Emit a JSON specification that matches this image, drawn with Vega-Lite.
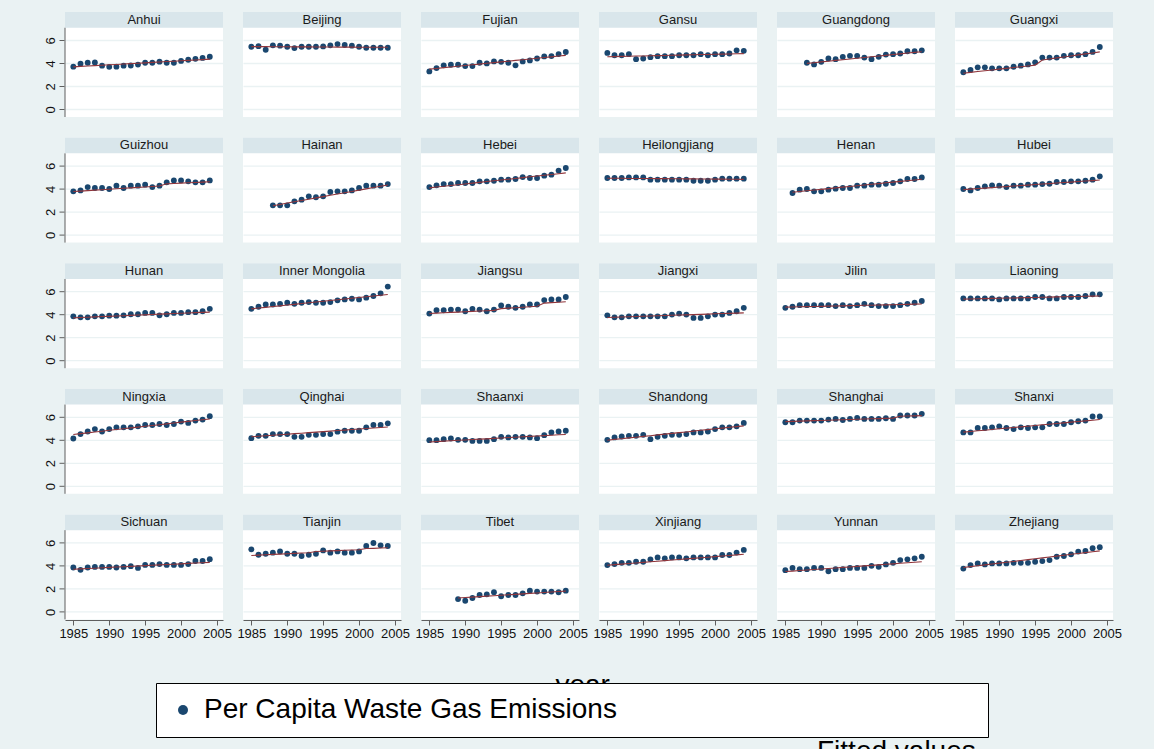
{
  "$schema": "https://vega.github.io/schema/vega-lite/v6.json",
  "background": "#EAF2F3",
  "padding": {"left": 43, "top": 12, "right": 38, "bottom": 10},
  "title": {"text": "year", "orient": "bottom", "anchor": "middle", "fontSize": 28, "fontWeight": "normal", "font": "Liberation Sans", "color": "#000000", "offset": -94},
  "data": {"values": [
    {"province":"Anhui","year":1985,"value":3.72,"fitted":3.70},{"province":"Anhui","year":1986,"value":3.97,"fitted":3.74},{"province":"Anhui","year":1987,"value":4.06,"fitted":3.77},{"province":"Anhui","year":1988,"value":4.08,"fitted":3.81},{"province":"Anhui","year":1989,"value":3.80,"fitted":3.84},{"province":"Anhui","year":1990,"value":3.70,"fitted":3.88},{"province":"Anhui","year":1991,"value":3.72,"fitted":3.91},{"province":"Anhui","year":1992,"value":3.80,"fitted":3.95},{"province":"Anhui","year":1993,"value":3.82,"fitted":3.98},{"province":"Anhui","year":1994,"value":3.90,"fitted":4.02},{"province":"Anhui","year":1995,"value":4.06,"fitted":4.05},{"province":"Anhui","year":1996,"value":4.06,"fitted":4.09},{"province":"Anhui","year":1997,"value":4.15,"fitted":4.12},{"province":"Anhui","year":1998,"value":4.06,"fitted":4.16},{"province":"Anhui","year":1999,"value":4.06,"fitted":4.19},{"province":"Anhui","year":2000,"value":4.22,"fitted":4.23},{"province":"Anhui","year":2001,"value":4.32,"fitted":4.26},{"province":"Anhui","year":2002,"value":4.40,"fitted":4.30},{"province":"Anhui","year":2003,"value":4.48,"fitted":4.33},{"province":"Anhui","year":2004,"value":4.58,"fitted":4.37},
    {"province":"Beijing","year":1985,"value":5.45,"fitted":5.46},{"province":"Beijing","year":1986,"value":5.50,"fitted":5.46},{"province":"Beijing","year":1987,"value":5.19,"fitted":5.46},{"province":"Beijing","year":1988,"value":5.57,"fitted":5.45},{"province":"Beijing","year":1989,"value":5.54,"fitted":5.45},{"province":"Beijing","year":1990,"value":5.45,"fitted":5.45},{"province":"Beijing","year":1991,"value":5.33,"fitted":5.44},{"province":"Beijing","year":1992,"value":5.45,"fitted":5.44},{"province":"Beijing","year":1993,"value":5.45,"fitted":5.44},{"province":"Beijing","year":1994,"value":5.45,"fitted":5.43},{"province":"Beijing","year":1995,"value":5.48,"fitted":5.43},{"province":"Beijing","year":1996,"value":5.57,"fitted":5.43},{"province":"Beijing","year":1997,"value":5.68,"fitted":5.42},{"province":"Beijing","year":1998,"value":5.60,"fitted":5.42},{"province":"Beijing","year":1999,"value":5.54,"fitted":5.42},{"province":"Beijing","year":2000,"value":5.45,"fitted":5.41},{"province":"Beijing","year":2001,"value":5.36,"fitted":5.41},{"province":"Beijing","year":2002,"value":5.36,"fitted":5.41},{"province":"Beijing","year":2003,"value":5.36,"fitted":5.40},{"province":"Beijing","year":2004,"value":5.36,"fitted":5.40},
    {"province":"Fujian","year":1985,"value":3.30,"fitted":3.50},{"province":"Fujian","year":1986,"value":3.59,"fitted":3.56},{"province":"Fujian","year":1987,"value":3.83,"fitted":3.63},{"province":"Fujian","year":1988,"value":3.88,"fitted":3.69},{"province":"Fujian","year":1989,"value":3.88,"fitted":3.75},{"province":"Fujian","year":1990,"value":3.77,"fitted":3.82},{"province":"Fujian","year":1991,"value":3.77,"fitted":3.88},{"province":"Fujian","year":1992,"value":4.06,"fitted":3.94},{"province":"Fujian","year":1993,"value":4.00,"fitted":4.01},{"province":"Fujian","year":1994,"value":4.17,"fitted":4.07},{"province":"Fujian","year":1995,"value":4.14,"fitted":4.13},{"province":"Fujian","year":1996,"value":4.06,"fitted":4.19},{"province":"Fujian","year":1997,"value":3.83,"fitted":4.26},{"province":"Fujian","year":1998,"value":4.17,"fitted":4.32},{"province":"Fujian","year":1999,"value":4.26,"fitted":4.38},{"province":"Fujian","year":2000,"value":4.43,"fitted":4.45},{"province":"Fujian","year":2001,"value":4.61,"fitted":4.51},{"province":"Fujian","year":2002,"value":4.64,"fitted":4.57},{"province":"Fujian","year":2003,"value":4.81,"fitted":4.64},{"province":"Fujian","year":2004,"value":4.99,"fitted":4.70},
    {"province":"Gansu","year":1985,"value":4.91,"fitted":4.58},{"province":"Gansu","year":1986,"value":4.71,"fitted":4.59},{"province":"Gansu","year":1987,"value":4.71,"fitted":4.61},{"province":"Gansu","year":1988,"value":4.80,"fitted":4.62},{"province":"Gansu","year":1989,"value":4.37,"fitted":4.64},{"province":"Gansu","year":1990,"value":4.43,"fitted":4.65},{"province":"Gansu","year":1991,"value":4.54,"fitted":4.67},{"province":"Gansu","year":1992,"value":4.63,"fitted":4.68},{"province":"Gansu","year":1993,"value":4.63,"fitted":4.69},{"province":"Gansu","year":1994,"value":4.63,"fitted":4.71},{"province":"Gansu","year":1995,"value":4.71,"fitted":4.72},{"province":"Gansu","year":1996,"value":4.71,"fitted":4.74},{"province":"Gansu","year":1997,"value":4.71,"fitted":4.75},{"province":"Gansu","year":1998,"value":4.80,"fitted":4.77},{"province":"Gansu","year":1999,"value":4.71,"fitted":4.78},{"province":"Gansu","year":2000,"value":4.80,"fitted":4.79},{"province":"Gansu","year":2001,"value":4.80,"fitted":4.81},{"province":"Gansu","year":2002,"value":4.86,"fitted":4.82},{"province":"Gansu","year":2003,"value":5.14,"fitted":4.84},{"province":"Gansu","year":2004,"value":5.09,"fitted":4.85},
    {"province":"Guangdong","year":1988,"value":4.06,"fitted":4.00},{"province":"Guangdong","year":1989,"value":3.91,"fitted":4.06},{"province":"Guangdong","year":1990,"value":4.14,"fitted":4.13},{"province":"Guangdong","year":1991,"value":4.43,"fitted":4.19},{"province":"Guangdong","year":1992,"value":4.37,"fitted":4.26},{"province":"Guangdong","year":1993,"value":4.57,"fitted":4.32},{"province":"Guangdong","year":1994,"value":4.66,"fitted":4.38},{"province":"Guangdong","year":1995,"value":4.66,"fitted":4.45},{"province":"Guangdong","year":1996,"value":4.51,"fitted":4.51},{"province":"Guangdong","year":1997,"value":4.37,"fitted":4.58},{"province":"Guangdong","year":1998,"value":4.57,"fitted":4.64},{"province":"Guangdong","year":1999,"value":4.77,"fitted":4.70},{"province":"Guangdong","year":2000,"value":4.80,"fitted":4.77},{"province":"Guangdong","year":2001,"value":4.86,"fitted":4.83},{"province":"Guangdong","year":2002,"value":5.06,"fitted":4.90},{"province":"Guangdong","year":2003,"value":5.06,"fitted":4.96},{"province":"Guangdong","year":2004,"value":5.14,"fitted":5.02},
    {"province":"Guangxi","year":1985,"value":3.23,"fitted":3.15},{"province":"Guangxi","year":1986,"value":3.43,"fitted":3.22},{"province":"Guangxi","year":1987,"value":3.66,"fitted":3.29},{"province":"Guangxi","year":1988,"value":3.66,"fitted":3.36},{"province":"Guangxi","year":1989,"value":3.57,"fitted":3.43},{"province":"Guangxi","year":1990,"value":3.57,"fitted":3.50},{"province":"Guangxi","year":1991,"value":3.57,"fitted":3.57},{"province":"Guangxi","year":1992,"value":3.71,"fitted":3.64},{"province":"Guangxi","year":1993,"value":3.80,"fitted":3.71},{"province":"Guangxi","year":1994,"value":3.91,"fitted":3.78},{"province":"Guangxi","year":1995,"value":4.09,"fitted":3.85},{"province":"Guangxi","year":1996,"value":4.51,"fitted":4.30},{"province":"Guangxi","year":1997,"value":4.51,"fitted":4.39},{"province":"Guangxi","year":1998,"value":4.51,"fitted":4.48},{"province":"Guangxi","year":1999,"value":4.66,"fitted":4.56},{"province":"Guangxi","year":2000,"value":4.71,"fitted":4.65},{"province":"Guangxi","year":2001,"value":4.71,"fitted":4.74},{"province":"Guangxi","year":2002,"value":4.80,"fitted":4.83},{"province":"Guangxi","year":2003,"value":5.00,"fitted":4.91},{"province":"Guangxi","year":2004,"value":5.43,"fitted":5.00},
    {"province":"Guizhou","year":1985,"value":3.80,"fitted":3.78},{"province":"Guizhou","year":1986,"value":3.88,"fitted":3.82},{"province":"Guizhou","year":1987,"value":4.17,"fitted":3.86},{"province":"Guizhou","year":1988,"value":4.09,"fitted":3.90},{"province":"Guizhou","year":1989,"value":4.09,"fitted":3.94},{"province":"Guizhou","year":1990,"value":4.00,"fitted":3.98},{"province":"Guizhou","year":1991,"value":4.29,"fitted":4.02},{"province":"Guizhou","year":1992,"value":4.09,"fitted":4.06},{"province":"Guizhou","year":1993,"value":4.29,"fitted":4.10},{"province":"Guizhou","year":1994,"value":4.29,"fitted":4.14},{"province":"Guizhou","year":1995,"value":4.38,"fitted":4.18},{"province":"Guizhou","year":1996,"value":4.17,"fitted":4.22},{"province":"Guizhou","year":1997,"value":4.29,"fitted":4.26},{"province":"Guizhou","year":1998,"value":4.58,"fitted":4.45},{"province":"Guizhou","year":1999,"value":4.75,"fitted":4.48},{"province":"Guizhou","year":2000,"value":4.75,"fitted":4.51},{"province":"Guizhou","year":2001,"value":4.67,"fitted":4.54},{"province":"Guizhou","year":2002,"value":4.58,"fitted":4.57},{"province":"Guizhou","year":2003,"value":4.58,"fitted":4.60},{"province":"Guizhou","year":2004,"value":4.75,"fitted":4.63},
    {"province":"Hainan","year":1988,"value":2.58,"fitted":2.55},{"province":"Hainan","year":1989,"value":2.58,"fitted":2.66},{"province":"Hainan","year":1990,"value":2.58,"fitted":2.78},{"province":"Hainan","year":1991,"value":2.93,"fitted":2.89},{"province":"Hainan","year":1992,"value":3.07,"fitted":3.00},{"province":"Hainan","year":1993,"value":3.36,"fitted":3.11},{"province":"Hainan","year":1994,"value":3.28,"fitted":3.23},{"province":"Hainan","year":1995,"value":3.36,"fitted":3.34},{"province":"Hainan","year":1996,"value":3.74,"fitted":3.45},{"province":"Hainan","year":1997,"value":3.80,"fitted":3.56},{"province":"Hainan","year":1998,"value":3.80,"fitted":3.68},{"province":"Hainan","year":1999,"value":3.88,"fitted":3.79},{"province":"Hainan","year":2000,"value":4.09,"fitted":3.90},{"province":"Hainan","year":2001,"value":4.29,"fitted":4.01},{"province":"Hainan","year":2002,"value":4.29,"fitted":4.13},{"province":"Hainan","year":2003,"value":4.29,"fitted":4.24},{"province":"Hainan","year":2004,"value":4.43,"fitted":4.35},
    {"province":"Hebei","year":1985,"value":4.17,"fitted":4.10},{"province":"Hebei","year":1986,"value":4.32,"fitted":4.17},{"province":"Hebei","year":1987,"value":4.43,"fitted":4.24},{"province":"Hebei","year":1988,"value":4.43,"fitted":4.31},{"province":"Hebei","year":1989,"value":4.52,"fitted":4.37},{"province":"Hebei","year":1990,"value":4.52,"fitted":4.44},{"province":"Hebei","year":1991,"value":4.52,"fitted":4.51},{"province":"Hebei","year":1992,"value":4.67,"fitted":4.58},{"province":"Hebei","year":1993,"value":4.67,"fitted":4.65},{"province":"Hebei","year":1994,"value":4.72,"fitted":4.72},{"province":"Hebei","year":1995,"value":4.81,"fitted":4.78},{"province":"Hebei","year":1996,"value":4.81,"fitted":4.85},{"province":"Hebei","year":1997,"value":4.87,"fitted":4.92},{"province":"Hebei","year":1998,"value":5.04,"fitted":4.99},{"province":"Hebei","year":1999,"value":4.96,"fitted":5.06},{"province":"Hebei","year":2000,"value":4.96,"fitted":5.13},{"province":"Hebei","year":2001,"value":5.16,"fitted":5.19},{"province":"Hebei","year":2002,"value":5.25,"fitted":5.26},{"province":"Hebei","year":2003,"value":5.60,"fitted":5.33},{"province":"Hebei","year":2004,"value":5.83,"fitted":5.40},
    {"province":"Heilongjiang","year":1985,"value":4.96,"fitted":4.94},{"province":"Heilongjiang","year":1986,"value":4.96,"fitted":4.93},{"province":"Heilongjiang","year":1987,"value":4.96,"fitted":4.93},{"province":"Heilongjiang","year":1988,"value":5.01,"fitted":4.92},{"province":"Heilongjiang","year":1989,"value":5.01,"fitted":4.92},{"province":"Heilongjiang","year":1990,"value":5.01,"fitted":4.91},{"province":"Heilongjiang","year":1991,"value":4.81,"fitted":4.91},{"province":"Heilongjiang","year":1992,"value":4.81,"fitted":4.90},{"province":"Heilongjiang","year":1993,"value":4.81,"fitted":4.90},{"province":"Heilongjiang","year":1994,"value":4.81,"fitted":4.89},{"province":"Heilongjiang","year":1995,"value":4.81,"fitted":4.89},{"province":"Heilongjiang","year":1996,"value":4.81,"fitted":4.88},{"province":"Heilongjiang","year":1997,"value":4.72,"fitted":4.88},{"province":"Heilongjiang","year":1998,"value":4.72,"fitted":4.87},{"province":"Heilongjiang","year":1999,"value":4.72,"fitted":4.87},{"province":"Heilongjiang","year":2000,"value":4.81,"fitted":4.86},{"province":"Heilongjiang","year":2001,"value":4.90,"fitted":4.86},{"province":"Heilongjiang","year":2002,"value":4.90,"fitted":4.85},{"province":"Heilongjiang","year":2003,"value":4.90,"fitted":4.85},{"province":"Heilongjiang","year":2004,"value":4.90,"fitted":4.84},
    {"province":"Henan","year":1986,"value":3.65,"fitted":3.72},{"province":"Henan","year":1987,"value":3.94,"fitted":3.78},{"province":"Henan","year":1988,"value":4.00,"fitted":3.85},{"province":"Henan","year":1989,"value":3.80,"fitted":3.91},{"province":"Henan","year":1990,"value":3.80,"fitted":3.97},{"province":"Henan","year":1991,"value":3.94,"fitted":4.03},{"province":"Henan","year":1992,"value":4.03,"fitted":4.10},{"province":"Henan","year":1993,"value":4.09,"fitted":4.16},{"province":"Henan","year":1994,"value":4.09,"fitted":4.22},{"province":"Henan","year":1995,"value":4.29,"fitted":4.29},{"province":"Henan","year":1996,"value":4.29,"fitted":4.35},{"province":"Henan","year":1997,"value":4.38,"fitted":4.41},{"province":"Henan","year":1998,"value":4.38,"fitted":4.47},{"province":"Henan","year":1999,"value":4.46,"fitted":4.54},{"province":"Henan","year":2000,"value":4.52,"fitted":4.60},{"province":"Henan","year":2001,"value":4.67,"fitted":4.66},{"province":"Henan","year":2002,"value":4.87,"fitted":4.72},{"province":"Henan","year":2003,"value":4.87,"fitted":4.79},{"province":"Henan","year":2004,"value":5.01,"fitted":4.85},
    {"province":"Hubei","year":1985,"value":4.00,"fitted":3.95},{"province":"Hubei","year":1986,"value":3.88,"fitted":3.99},{"province":"Hubei","year":1987,"value":4.09,"fitted":4.04},{"province":"Hubei","year":1988,"value":4.23,"fitted":4.08},{"province":"Hubei","year":1989,"value":4.32,"fitted":4.12},{"province":"Hubei","year":1990,"value":4.29,"fitted":4.17},{"province":"Hubei","year":1991,"value":4.17,"fitted":4.21},{"province":"Hubei","year":1992,"value":4.29,"fitted":4.26},{"province":"Hubei","year":1993,"value":4.29,"fitted":4.30},{"province":"Hubei","year":1994,"value":4.38,"fitted":4.34},{"province":"Hubei","year":1995,"value":4.38,"fitted":4.39},{"province":"Hubei","year":1996,"value":4.43,"fitted":4.43},{"province":"Hubei","year":1997,"value":4.46,"fitted":4.47},{"province":"Hubei","year":1998,"value":4.61,"fitted":4.52},{"province":"Hubei","year":1999,"value":4.61,"fitted":4.56},{"province":"Hubei","year":2000,"value":4.67,"fitted":4.60},{"province":"Hubei","year":2001,"value":4.67,"fitted":4.65},{"province":"Hubei","year":2002,"value":4.72,"fitted":4.69},{"province":"Hubei","year":2003,"value":4.81,"fitted":4.73},{"province":"Hubei","year":2004,"value":5.10,"fitted":4.78},
    {"province":"Hunan","year":1985,"value":3.85,"fitted":3.72},{"province":"Hunan","year":1986,"value":3.76,"fitted":3.75},{"province":"Hunan","year":1987,"value":3.76,"fitted":3.77},{"province":"Hunan","year":1988,"value":3.85,"fitted":3.80},{"province":"Hunan","year":1989,"value":3.85,"fitted":3.83},{"province":"Hunan","year":1990,"value":3.91,"fitted":3.85},{"province":"Hunan","year":1991,"value":3.91,"fitted":3.88},{"province":"Hunan","year":1992,"value":3.94,"fitted":3.90},{"province":"Hunan","year":1993,"value":4.03,"fitted":3.93},{"province":"Hunan","year":1994,"value":4.03,"fitted":3.96},{"province":"Hunan","year":1995,"value":4.15,"fitted":3.98},{"province":"Hunan","year":1996,"value":4.15,"fitted":4.01},{"province":"Hunan","year":1997,"value":3.94,"fitted":4.04},{"province":"Hunan","year":1998,"value":4.03,"fitted":4.06},{"province":"Hunan","year":1999,"value":4.15,"fitted":4.09},{"province":"Hunan","year":2000,"value":4.15,"fitted":4.12},{"province":"Hunan","year":2001,"value":4.21,"fitted":4.14},{"province":"Hunan","year":2002,"value":4.21,"fitted":4.17},{"province":"Hunan","year":2003,"value":4.29,"fitted":4.19},{"province":"Hunan","year":2004,"value":4.50,"fitted":4.22},
    {"province":"Inner Mongolia","year":1985,"value":4.50,"fitted":4.50},{"province":"Inner Mongolia","year":1986,"value":4.68,"fitted":4.57},{"province":"Inner Mongolia","year":1987,"value":4.88,"fitted":4.63},{"province":"Inner Mongolia","year":1988,"value":4.88,"fitted":4.70},{"province":"Inner Mongolia","year":1989,"value":4.94,"fitted":4.76},{"province":"Inner Mongolia","year":1990,"value":5.03,"fitted":4.83},{"province":"Inner Mongolia","year":1991,"value":4.94,"fitted":4.89},{"province":"Inner Mongolia","year":1992,"value":5.03,"fitted":4.96},{"province":"Inner Mongolia","year":1993,"value":5.09,"fitted":5.03},{"province":"Inner Mongolia","year":1994,"value":5.03,"fitted":5.09},{"province":"Inner Mongolia","year":1995,"value":5.03,"fitted":5.16},{"province":"Inner Mongolia","year":1996,"value":5.09,"fitted":5.22},{"province":"Inner Mongolia","year":1997,"value":5.24,"fitted":5.29},{"province":"Inner Mongolia","year":1998,"value":5.32,"fitted":5.36},{"province":"Inner Mongolia","year":1999,"value":5.38,"fitted":5.42},{"province":"Inner Mongolia","year":2000,"value":5.32,"fitted":5.49},{"province":"Inner Mongolia","year":2001,"value":5.47,"fitted":5.55},{"province":"Inner Mongolia","year":2002,"value":5.62,"fitted":5.62},{"province":"Inner Mongolia","year":2003,"value":5.85,"fitted":5.68},{"province":"Inner Mongolia","year":2004,"value":6.44,"fitted":5.75},
    {"province":"Jiangsu","year":1985,"value":4.09,"fitted":4.10},{"province":"Jiangsu","year":1986,"value":4.38,"fitted":4.13},{"province":"Jiangsu","year":1987,"value":4.38,"fitted":4.16},{"province":"Jiangsu","year":1988,"value":4.44,"fitted":4.19},{"province":"Jiangsu","year":1989,"value":4.44,"fitted":4.22},{"province":"Jiangsu","year":1990,"value":4.29,"fitted":4.25},{"province":"Jiangsu","year":1991,"value":4.50,"fitted":4.28},{"province":"Jiangsu","year":1992,"value":4.44,"fitted":4.31},{"province":"Jiangsu","year":1993,"value":4.29,"fitted":4.34},{"province":"Jiangsu","year":1994,"value":4.44,"fitted":4.37},{"province":"Jiangsu","year":1995,"value":4.79,"fitted":4.52},{"province":"Jiangsu","year":1996,"value":4.68,"fitted":4.56},{"province":"Jiangsu","year":1997,"value":4.59,"fitted":4.60},{"province":"Jiangsu","year":1998,"value":4.68,"fitted":4.64},{"province":"Jiangsu","year":1999,"value":4.88,"fitted":4.68},{"province":"Jiangsu","year":2000,"value":4.88,"fitted":4.72},{"province":"Jiangsu","year":2001,"value":5.26,"fitted":5.00},{"province":"Jiangsu","year":2002,"value":5.32,"fitted":5.04},{"province":"Jiangsu","year":2003,"value":5.32,"fitted":5.08},{"province":"Jiangsu","year":2004,"value":5.53,"fitted":5.12},
    {"province":"Jiangxi","year":1985,"value":3.94,"fitted":3.75},{"province":"Jiangxi","year":1986,"value":3.76,"fitted":3.77},{"province":"Jiangxi","year":1987,"value":3.76,"fitted":3.79},{"province":"Jiangxi","year":1988,"value":3.85,"fitted":3.81},{"province":"Jiangxi","year":1989,"value":3.85,"fitted":3.83},{"province":"Jiangxi","year":1990,"value":3.85,"fitted":3.86},{"province":"Jiangxi","year":1991,"value":3.85,"fitted":3.88},{"province":"Jiangxi","year":1992,"value":3.85,"fitted":3.90},{"province":"Jiangxi","year":1993,"value":3.85,"fitted":3.92},{"province":"Jiangxi","year":1994,"value":4.00,"fitted":3.94},{"province":"Jiangxi","year":1995,"value":4.09,"fitted":3.96},{"province":"Jiangxi","year":1996,"value":4.00,"fitted":3.98},{"province":"Jiangxi","year":1997,"value":3.71,"fitted":4.00},{"province":"Jiangxi","year":1998,"value":3.71,"fitted":4.02},{"province":"Jiangxi","year":1999,"value":3.85,"fitted":4.04},{"province":"Jiangxi","year":2000,"value":4.00,"fitted":4.07},{"province":"Jiangxi","year":2001,"value":4.00,"fitted":4.09},{"province":"Jiangxi","year":2002,"value":4.15,"fitted":4.11},{"province":"Jiangxi","year":2003,"value":4.29,"fitted":4.13},{"province":"Jiangxi","year":2004,"value":4.59,"fitted":4.15},
    {"province":"Jilin","year":1985,"value":4.59,"fitted":4.65},{"province":"Jilin","year":1986,"value":4.68,"fitted":4.66},{"province":"Jilin","year":1987,"value":4.82,"fitted":4.68},{"province":"Jilin","year":1988,"value":4.82,"fitted":4.69},{"province":"Jilin","year":1989,"value":4.82,"fitted":4.71},{"province":"Jilin","year":1990,"value":4.82,"fitted":4.72},{"province":"Jilin","year":1991,"value":4.82,"fitted":4.74},{"province":"Jilin","year":1992,"value":4.74,"fitted":4.75},{"province":"Jilin","year":1993,"value":4.82,"fitted":4.76},{"province":"Jilin","year":1994,"value":4.74,"fitted":4.78},{"province":"Jilin","year":1995,"value":4.82,"fitted":4.79},{"province":"Jilin","year":1996,"value":4.94,"fitted":4.81},{"province":"Jilin","year":1997,"value":4.82,"fitted":4.82},{"province":"Jilin","year":1998,"value":4.74,"fitted":4.84},{"province":"Jilin","year":1999,"value":4.74,"fitted":4.85},{"province":"Jilin","year":2000,"value":4.74,"fitted":4.86},{"province":"Jilin","year":2001,"value":4.82,"fitted":4.88},{"province":"Jilin","year":2002,"value":4.94,"fitted":4.89},{"province":"Jilin","year":2003,"value":5.03,"fitted":4.91},{"province":"Jilin","year":2004,"value":5.18,"fitted":4.92},
    {"province":"Liaoning","year":1985,"value":5.41,"fitted":5.35},{"province":"Liaoning","year":1986,"value":5.41,"fitted":5.36},{"province":"Liaoning","year":1987,"value":5.41,"fitted":5.38},{"province":"Liaoning","year":1988,"value":5.41,"fitted":5.39},{"province":"Liaoning","year":1989,"value":5.41,"fitted":5.41},{"province":"Liaoning","year":1990,"value":5.32,"fitted":5.42},{"province":"Liaoning","year":1991,"value":5.41,"fitted":5.44},{"province":"Liaoning","year":1992,"value":5.41,"fitted":5.45},{"province":"Liaoning","year":1993,"value":5.41,"fitted":5.46},{"province":"Liaoning","year":1994,"value":5.41,"fitted":5.48},{"province":"Liaoning","year":1995,"value":5.53,"fitted":5.49},{"province":"Liaoning","year":1996,"value":5.53,"fitted":5.51},{"province":"Liaoning","year":1997,"value":5.41,"fitted":5.52},{"province":"Liaoning","year":1998,"value":5.41,"fitted":5.54},{"province":"Liaoning","year":1999,"value":5.53,"fitted":5.55},{"province":"Liaoning","year":2000,"value":5.53,"fitted":5.56},{"province":"Liaoning","year":2001,"value":5.53,"fitted":5.58},{"province":"Liaoning","year":2002,"value":5.62,"fitted":5.59},{"province":"Liaoning","year":2003,"value":5.76,"fitted":5.61},{"province":"Liaoning","year":2004,"value":5.76,"fitted":5.62},
    {"province":"Ningxia","year":1985,"value":4.15,"fitted":4.50},{"province":"Ningxia","year":1986,"value":4.53,"fitted":4.57},{"province":"Ningxia","year":1987,"value":4.76,"fitted":4.64},{"province":"Ningxia","year":1988,"value":4.97,"fitted":4.71},{"province":"Ningxia","year":1989,"value":4.76,"fitted":4.78},{"province":"Ningxia","year":1990,"value":4.97,"fitted":4.86},{"province":"Ningxia","year":1991,"value":5.12,"fitted":4.93},{"province":"Ningxia","year":1992,"value":5.12,"fitted":5.00},{"province":"Ningxia","year":1993,"value":5.12,"fitted":5.07},{"province":"Ningxia","year":1994,"value":5.21,"fitted":5.14},{"province":"Ningxia","year":1995,"value":5.32,"fitted":5.21},{"province":"Ningxia","year":1996,"value":5.32,"fitted":5.28},{"province":"Ningxia","year":1997,"value":5.41,"fitted":5.35},{"province":"Ningxia","year":1998,"value":5.32,"fitted":5.42},{"province":"Ningxia","year":1999,"value":5.41,"fitted":5.49},{"province":"Ningxia","year":2000,"value":5.62,"fitted":5.57},{"province":"Ningxia","year":2001,"value":5.50,"fitted":5.64},{"province":"Ningxia","year":2002,"value":5.71,"fitted":5.71},{"province":"Ningxia","year":2003,"value":5.79,"fitted":5.78},{"province":"Ningxia","year":2004,"value":6.09,"fitted":5.85},
    {"province":"Qinghai","year":1985,"value":4.18,"fitted":4.30},{"province":"Qinghai","year":1986,"value":4.38,"fitted":4.34},{"province":"Qinghai","year":1987,"value":4.38,"fitted":4.39},{"province":"Qinghai","year":1988,"value":4.53,"fitted":4.43},{"province":"Qinghai","year":1989,"value":4.53,"fitted":4.48},{"province":"Qinghai","year":1990,"value":4.53,"fitted":4.52},{"province":"Qinghai","year":1991,"value":4.29,"fitted":4.57},{"province":"Qinghai","year":1992,"value":4.29,"fitted":4.61},{"province":"Qinghai","year":1993,"value":4.47,"fitted":4.66},{"province":"Qinghai","year":1994,"value":4.47,"fitted":4.70},{"province":"Qinghai","year":1995,"value":4.53,"fitted":4.75},{"province":"Qinghai","year":1996,"value":4.53,"fitted":4.79},{"province":"Qinghai","year":1997,"value":4.74,"fitted":4.84},{"province":"Qinghai","year":1998,"value":4.82,"fitted":4.88},{"province":"Qinghai","year":1999,"value":4.82,"fitted":4.93},{"province":"Qinghai","year":2000,"value":4.82,"fitted":4.97},{"province":"Qinghai","year":2001,"value":5.12,"fitted":5.02},{"province":"Qinghai","year":2002,"value":5.32,"fitted":5.06},{"province":"Qinghai","year":2003,"value":5.32,"fitted":5.11},{"province":"Qinghai","year":2004,"value":5.47,"fitted":5.15},
    {"province":"Shaanxi","year":1985,"value":4.00,"fitted":3.85},{"province":"Shaanxi","year":1986,"value":4.00,"fitted":3.88},{"province":"Shaanxi","year":1987,"value":4.09,"fitted":3.92},{"province":"Shaanxi","year":1988,"value":4.15,"fitted":3.95},{"province":"Shaanxi","year":1989,"value":4.03,"fitted":3.99},{"province":"Shaanxi","year":1990,"value":4.03,"fitted":4.02},{"province":"Shaanxi","year":1991,"value":3.94,"fitted":4.06},{"province":"Shaanxi","year":1992,"value":3.94,"fitted":4.09},{"province":"Shaanxi","year":1993,"value":3.94,"fitted":4.12},{"province":"Shaanxi","year":1994,"value":4.09,"fitted":4.16},{"province":"Shaanxi","year":1995,"value":4.29,"fitted":4.19},{"province":"Shaanxi","year":1996,"value":4.24,"fitted":4.23},{"province":"Shaanxi","year":1997,"value":4.29,"fitted":4.26},{"province":"Shaanxi","year":1998,"value":4.29,"fitted":4.30},{"province":"Shaanxi","year":1999,"value":4.24,"fitted":4.33},{"province":"Shaanxi","year":2000,"value":4.18,"fitted":4.36},{"province":"Shaanxi","year":2001,"value":4.44,"fitted":4.40},{"province":"Shaanxi","year":2002,"value":4.68,"fitted":4.43},{"province":"Shaanxi","year":2003,"value":4.76,"fitted":4.47},{"province":"Shaanxi","year":2004,"value":4.82,"fitted":4.50},
    {"province":"Shandong","year":1985,"value":4.03,"fitted":4.00},{"province":"Shandong","year":1986,"value":4.24,"fitted":4.07},{"province":"Shandong","year":1987,"value":4.32,"fitted":4.13},{"province":"Shandong","year":1988,"value":4.38,"fitted":4.20},{"province":"Shandong","year":1989,"value":4.38,"fitted":4.26},{"province":"Shandong","year":1990,"value":4.47,"fitted":4.33},{"province":"Shandong","year":1991,"value":4.09,"fitted":4.39},{"province":"Shandong","year":1992,"value":4.29,"fitted":4.46},{"province":"Shandong","year":1993,"value":4.38,"fitted":4.53},{"province":"Shandong","year":1994,"value":4.47,"fitted":4.59},{"province":"Shandong","year":1995,"value":4.47,"fitted":4.66},{"province":"Shandong","year":1996,"value":4.53,"fitted":4.72},{"province":"Shandong","year":1997,"value":4.68,"fitted":4.79},{"province":"Shandong","year":1998,"value":4.68,"fitted":4.86},{"province":"Shandong","year":1999,"value":4.76,"fitted":4.92},{"province":"Shandong","year":2000,"value":4.97,"fitted":4.99},{"province":"Shandong","year":2001,"value":5.12,"fitted":5.05},{"province":"Shandong","year":2002,"value":5.12,"fitted":5.12},{"province":"Shandong","year":2003,"value":5.21,"fitted":5.18},{"province":"Shandong","year":2004,"value":5.50,"fitted":5.25},
    {"province":"Shanghai","year":1985,"value":5.56,"fitted":5.62},{"province":"Shanghai","year":1986,"value":5.56,"fitted":5.64},{"province":"Shanghai","year":1987,"value":5.71,"fitted":5.66},{"province":"Shanghai","year":1988,"value":5.71,"fitted":5.68},{"province":"Shanghai","year":1989,"value":5.71,"fitted":5.70},{"province":"Shanghai","year":1990,"value":5.71,"fitted":5.72},{"province":"Shanghai","year":1991,"value":5.79,"fitted":5.74},{"province":"Shanghai","year":1992,"value":5.85,"fitted":5.76},{"province":"Shanghai","year":1993,"value":5.76,"fitted":5.78},{"province":"Shanghai","year":1994,"value":5.85,"fitted":5.80},{"province":"Shanghai","year":1995,"value":5.94,"fitted":5.82},{"province":"Shanghai","year":1996,"value":5.85,"fitted":5.84},{"province":"Shanghai","year":1997,"value":5.85,"fitted":5.86},{"province":"Shanghai","year":1998,"value":5.85,"fitted":5.88},{"province":"Shanghai","year":1999,"value":5.91,"fitted":5.90},{"province":"Shanghai","year":2000,"value":5.85,"fitted":5.92},{"province":"Shanghai","year":2001,"value":6.15,"fitted":6.08},{"province":"Shanghai","year":2002,"value":6.15,"fitted":6.10},{"province":"Shanghai","year":2003,"value":6.15,"fitted":6.12},{"province":"Shanghai","year":2004,"value":6.29,"fitted":6.14},
    {"province":"Shanxi","year":1985,"value":4.68,"fitted":4.70},{"province":"Shanxi","year":1986,"value":4.68,"fitted":4.76},{"province":"Shanxi","year":1987,"value":5.06,"fitted":4.82},{"province":"Shanxi","year":1988,"value":5.06,"fitted":4.87},{"province":"Shanxi","year":1989,"value":5.12,"fitted":4.93},{"province":"Shanxi","year":1990,"value":5.21,"fitted":4.99},{"province":"Shanxi","year":1991,"value":5.06,"fitted":5.05},{"province":"Shanxi","year":1992,"value":4.97,"fitted":5.11},{"province":"Shanxi","year":1993,"value":5.12,"fitted":5.16},{"province":"Shanxi","year":1994,"value":5.06,"fitted":5.22},{"province":"Shanxi","year":1995,"value":5.12,"fitted":5.28},{"province":"Shanxi","year":1996,"value":5.12,"fitted":5.34},{"province":"Shanxi","year":1997,"value":5.41,"fitted":5.39},{"province":"Shanxi","year":1998,"value":5.41,"fitted":5.45},{"province":"Shanxi","year":1999,"value":5.41,"fitted":5.51},{"province":"Shanxi","year":2000,"value":5.56,"fitted":5.57},{"province":"Shanxi","year":2001,"value":5.65,"fitted":5.63},{"province":"Shanxi","year":2002,"value":5.71,"fitted":5.68},{"province":"Shanxi","year":2003,"value":6.06,"fitted":5.74},{"province":"Shanxi","year":2004,"value":6.06,"fitted":5.80},
    {"province":"Sichuan","year":1985,"value":3.85,"fitted":3.70},{"province":"Sichuan","year":1986,"value":3.65,"fitted":3.73},{"province":"Sichuan","year":1987,"value":3.85,"fitted":3.76},{"province":"Sichuan","year":1988,"value":3.90,"fitted":3.79},{"province":"Sichuan","year":1989,"value":3.90,"fitted":3.83},{"province":"Sichuan","year":1990,"value":3.90,"fitted":3.86},{"province":"Sichuan","year":1991,"value":3.85,"fitted":3.89},{"province":"Sichuan","year":1992,"value":3.90,"fitted":3.92},{"province":"Sichuan","year":1993,"value":3.97,"fitted":3.95},{"province":"Sichuan","year":1994,"value":3.82,"fitted":3.98},{"province":"Sichuan","year":1995,"value":4.08,"fitted":4.02},{"province":"Sichuan","year":1996,"value":4.08,"fitted":4.05},{"province":"Sichuan","year":1997,"value":4.15,"fitted":4.08},{"province":"Sichuan","year":1998,"value":4.08,"fitted":4.11},{"province":"Sichuan","year":1999,"value":4.08,"fitted":4.14},{"province":"Sichuan","year":2000,"value":4.08,"fitted":4.17},{"province":"Sichuan","year":2001,"value":4.15,"fitted":4.21},{"province":"Sichuan","year":2002,"value":4.42,"fitted":4.24},{"province":"Sichuan","year":2003,"value":4.42,"fitted":4.27},{"province":"Sichuan","year":2004,"value":4.58,"fitted":4.30},
    {"province":"Tianjin","year":1985,"value":5.43,"fitted":4.90},{"province":"Tianjin","year":1986,"value":4.96,"fitted":4.93},{"province":"Tianjin","year":1987,"value":5.05,"fitted":4.96},{"province":"Tianjin","year":1988,"value":5.14,"fitted":4.99},{"province":"Tianjin","year":1989,"value":5.25,"fitted":5.02},{"province":"Tianjin","year":1990,"value":5.05,"fitted":5.05},{"province":"Tianjin","year":1991,"value":5.05,"fitted":5.08},{"province":"Tianjin","year":1992,"value":4.85,"fitted":5.11},{"province":"Tianjin","year":1993,"value":4.96,"fitted":5.14},{"province":"Tianjin","year":1994,"value":5.05,"fitted":5.25},{"province":"Tianjin","year":1995,"value":5.34,"fitted":5.27},{"province":"Tianjin","year":1996,"value":5.14,"fitted":5.30},{"province":"Tianjin","year":1997,"value":5.25,"fitted":5.32},{"province":"Tianjin","year":1998,"value":5.14,"fitted":5.35},{"province":"Tianjin","year":1999,"value":5.14,"fitted":5.37},{"province":"Tianjin","year":2000,"value":5.25,"fitted":5.40},{"province":"Tianjin","year":2001,"value":5.72,"fitted":5.50},{"province":"Tianjin","year":2002,"value":5.98,"fitted":5.52},{"province":"Tianjin","year":2003,"value":5.78,"fitted":5.55},{"province":"Tianjin","year":2004,"value":5.72,"fitted":5.57},
    {"province":"Tibet","year":1989,"value":1.11,"fitted":1.20},{"province":"Tibet","year":1990,"value":0.96,"fitted":1.24},{"province":"Tibet","year":1991,"value":1.20,"fitted":1.28},{"province":"Tibet","year":1992,"value":1.46,"fitted":1.32},{"province":"Tibet","year":1993,"value":1.52,"fitted":1.36},{"province":"Tibet","year":1994,"value":1.70,"fitted":1.40},{"province":"Tibet","year":1995,"value":1.35,"fitted":1.44},{"province":"Tibet","year":1996,"value":1.46,"fitted":1.48},{"province":"Tibet","year":1997,"value":1.46,"fitted":1.52},{"province":"Tibet","year":1998,"value":1.61,"fitted":1.56},{"province":"Tibet","year":1999,"value":1.84,"fitted":1.60},{"province":"Tibet","year":2000,"value":1.76,"fitted":1.64},{"province":"Tibet","year":2001,"value":1.76,"fitted":1.68},{"province":"Tibet","year":2002,"value":1.76,"fitted":1.72},{"province":"Tibet","year":2003,"value":1.70,"fitted":1.76},{"province":"Tibet","year":2004,"value":1.84,"fitted":1.80},
    {"province":"Xinjiang","year":1985,"value":4.06,"fitted":4.05},{"province":"Xinjiang","year":1986,"value":4.15,"fitted":4.10},{"province":"Xinjiang","year":1987,"value":4.26,"fitted":4.15},{"province":"Xinjiang","year":1988,"value":4.26,"fitted":4.20},{"province":"Xinjiang","year":1989,"value":4.35,"fitted":4.25},{"province":"Xinjiang","year":1990,"value":4.35,"fitted":4.30},{"province":"Xinjiang","year":1991,"value":4.56,"fitted":4.35},{"province":"Xinjiang","year":1992,"value":4.73,"fitted":4.40},{"province":"Xinjiang","year":1993,"value":4.65,"fitted":4.45},{"province":"Xinjiang","year":1994,"value":4.73,"fitted":4.50},{"province":"Xinjiang","year":1995,"value":4.73,"fitted":4.55},{"province":"Xinjiang","year":1996,"value":4.65,"fitted":4.60},{"province":"Xinjiang","year":1997,"value":4.73,"fitted":4.65},{"province":"Xinjiang","year":1998,"value":4.73,"fitted":4.70},{"province":"Xinjiang","year":1999,"value":4.73,"fitted":4.75},{"province":"Xinjiang","year":2000,"value":4.73,"fitted":4.80},{"province":"Xinjiang","year":2001,"value":4.94,"fitted":4.85},{"province":"Xinjiang","year":2002,"value":4.94,"fitted":4.90},{"province":"Xinjiang","year":2003,"value":5.15,"fitted":4.95},{"province":"Xinjiang","year":2004,"value":5.38,"fitted":5.00},
    {"province":"Yunnan","year":1985,"value":3.62,"fitted":3.50},{"province":"Yunnan","year":1986,"value":3.82,"fitted":3.54},{"province":"Yunnan","year":1987,"value":3.71,"fitted":3.59},{"province":"Yunnan","year":1988,"value":3.71,"fitted":3.63},{"province":"Yunnan","year":1989,"value":3.82,"fitted":3.68},{"province":"Yunnan","year":1990,"value":3.82,"fitted":3.72},{"province":"Yunnan","year":1991,"value":3.53,"fitted":3.77},{"province":"Yunnan","year":1992,"value":3.71,"fitted":3.81},{"province":"Yunnan","year":1993,"value":3.71,"fitted":3.86},{"province":"Yunnan","year":1994,"value":3.82,"fitted":3.90},{"province":"Yunnan","year":1995,"value":3.82,"fitted":3.95},{"province":"Yunnan","year":1996,"value":3.82,"fitted":3.99},{"province":"Yunnan","year":1997,"value":4.00,"fitted":4.04},{"province":"Yunnan","year":1998,"value":3.91,"fitted":4.08},{"province":"Yunnan","year":1999,"value":4.12,"fitted":4.13},{"province":"Yunnan","year":2000,"value":4.26,"fitted":4.17},{"province":"Yunnan","year":2001,"value":4.50,"fitted":4.22},{"province":"Yunnan","year":2002,"value":4.56,"fitted":4.26},{"province":"Yunnan","year":2003,"value":4.65,"fitted":4.31},{"province":"Yunnan","year":2004,"value":4.79,"fitted":4.35},
    {"province":"Zhejiang","year":1985,"value":3.76,"fitted":3.85},{"province":"Zhejiang","year":1986,"value":4.06,"fitted":3.93},{"province":"Zhejiang","year":1987,"value":4.21,"fitted":4.00},{"province":"Zhejiang","year":1988,"value":4.12,"fitted":4.08},{"province":"Zhejiang","year":1989,"value":4.21,"fitted":4.16},{"province":"Zhejiang","year":1990,"value":4.21,"fitted":4.23},{"province":"Zhejiang","year":1991,"value":4.21,"fitted":4.31},{"province":"Zhejiang","year":1992,"value":4.26,"fitted":4.38},{"province":"Zhejiang","year":1993,"value":4.26,"fitted":4.46},{"province":"Zhejiang","year":1994,"value":4.26,"fitted":4.54},{"province":"Zhejiang","year":1995,"value":4.35,"fitted":4.61},{"province":"Zhejiang","year":1996,"value":4.41,"fitted":4.69},{"province":"Zhejiang","year":1997,"value":4.50,"fitted":4.77},{"province":"Zhejiang","year":1998,"value":4.79,"fitted":4.84},{"province":"Zhejiang","year":1999,"value":4.85,"fitted":4.92},{"province":"Zhejiang","year":2000,"value":5.00,"fitted":5.00},{"province":"Zhejiang","year":2001,"value":5.24,"fitted":5.07},{"province":"Zhejiang","year":2002,"value":5.29,"fitted":5.15},{"province":"Zhejiang","year":2003,"value":5.53,"fitted":5.22},{"province":"Zhejiang","year":2004,"value":5.62,"fitted":5.30}
  ]},
  "facet": {
    "field": "province", "type": "nominal",
    "header": {"title": null, "labels": false, "labelExpr": "''", "labelFontSize": 0, "labelPadding": 0}
  },
  "columns": 6,
  "spacing": {"row": 19.6, "column": 20},
  "spec": {
    "width": 158,
    "height": 105,
    "layer": [
      {
        "transform": [{"filter": "datum.year == 2004"}],
        "mark": {"type": "rect", "color": "#D9E6EB"},
        "encoding": {
          "x": {
            "datum": 1983.84, "type": "quantitative",
            "scale": {"domain": [1983.84, 2005.84], "nice": false, "zero": false},
            "axis": {"values": [1985, 1990, 1995, 2000, 2005], "tickCount": 20, "format": "d", "grid": false, "title": null, "labelOverlap": false}
          },
          "x2": {"datum": 2005.84},
          "y": {
            "datum": 7.1, "type": "quantitative",
            "scale": {"domain": [-0.66, 8.47], "nice": false, "zero": false},
            "axis": {"values": [0, 2, 4, 6], "tickCount": 20, "format": "d", "labelAngle": -90, "grid": true, "gridColor": "#EAF2F3", "gridWidth": 1.3, "domain": false, "title": null, "labelOverlap": false}
          },
          "y2": {"datum": 8.47}
        }
      },
      {
        "transform": [{"filter": "datum.year == 2004"}],
        "mark": {"type": "text", "fontSize": 13, "color": "#1a1a1a", "baseline": "middle", "align": "center"},
        "encoding": {
          "x": {"datum": 1994.84, "type": "quantitative"},
          "y": {"datum": 7.79, "type": "quantitative"},
          "text": {"field": "province"}
        }
      },
      {
        "transform": [
          {"filter": {"field": "province", "oneOf": ["Anhui", "Guizhou", "Hunan", "Ningxia", "Sichuan"]}},
          {"filter": "datum.year == 2004"}
        ],
        "mark": {"type": "rule", "color": "#5f5f5f", "strokeWidth": 1},
        "encoding": {
          "x": {"datum": 1983.84, "type": "quantitative"},
          "y": {"datum": -0.66, "type": "quantitative"},
          "y2": {"datum": 7.1}
        }
      },
      {
        "mark": {"type": "point", "filled": true, "shape": "circle", "size": 34, "opacity": 1},
        "encoding": {
          "x": {"field": "year", "type": "quantitative"},
          "y": {"field": "value", "type": "quantitative"},
          "color": {
            "datum": "Per Capita Waste Gas Emissions",
            "scale": {"domain": ["Per Capita Waste Gas Emissions"], "range": ["#1A476F"]},
            "legend": {
              "orient": "none", "legendX": 91, "legendY": 671, "zindex": 1,
              "direction": "horizontal",
              "title": "\u00a0", "titleOrient": "right", "titlePadding": 358, "titleFontSize": 28, "titleFont": "Liberation Sans",
              "labelFont": "Liberation Sans", "labelFontSize": 28, "labelColor": "#000000", "labelLimit": 700, "labelOffset": 7,
              "padding": 13, "strokeColor": "#000000", "fillColor": "#ffffff",
              "symbolType": "circle", "symbolSize": 100
            }
          }
        }
      },
      {
        "mark": {"type": "line", "strokeWidth": 1.1},
        "encoding": {
          "x": {"field": "year", "type": "quantitative"},
          "y": {"field": "fitted", "type": "quantitative"},
          "stroke": {
            "datum": "Fitted values",
            "scale": {"domain": ["Fitted values"], "range": ["#90353B"]},
            "legend": {
              "orient": "none", "legendX": 625, "legendY": 684, "zindex": 2,
              "direction": "horizontal", "title": null,
              "labelFont": "Liberation Sans", "labelFontSize": 28, "labelColor": "#000000", "labelLimit": 700, "labelOffset": 16,
              "padding": 0, "strokeColor": null, "fillColor": null,
              "symbolType": "stroke", "symbolSize": 11664, "symbolStrokeWidth": 2.5
            }
          }
        }
      }
    ]
  },
  "config": {
    "font": "Liberation Sans",
    "view": {"fill": "#ffffff", "stroke": null},
    "axis": {
      "labelFont": "Liberation Sans", "labelFontSize": 13, "labelColor": "#111111",
      "tickColor": "#5f5f5f", "domainColor": "#5f5f5f", "tickSize": 5, "labelPadding": 2,
      "labelOverlap": false, "labelFlush": false
    }
  }
}
